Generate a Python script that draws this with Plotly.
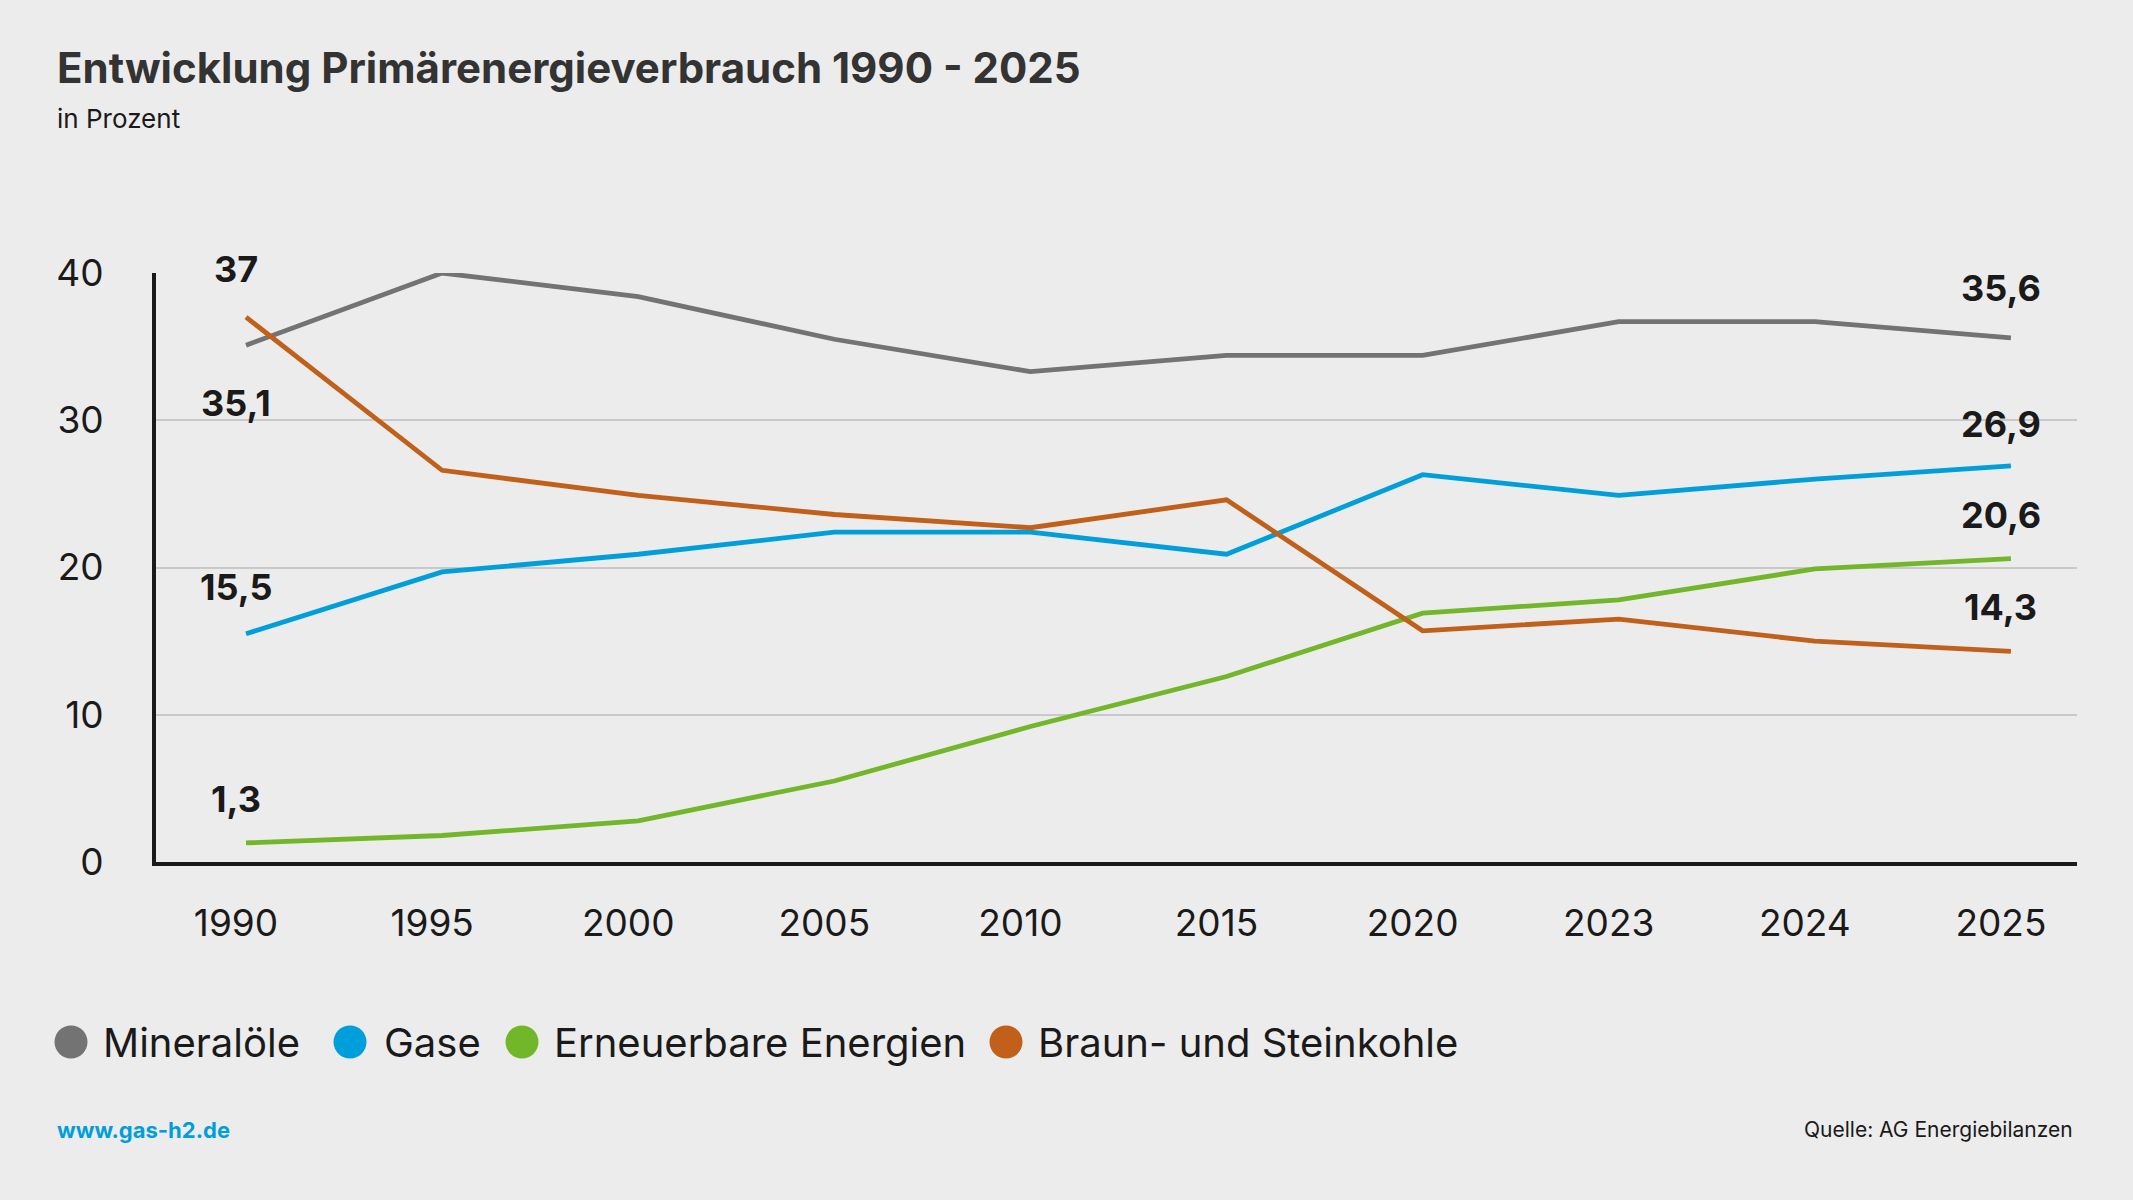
import plotly.graph_objects as go

years = ["1990", "1995", "2000", "2005", "2010", "2015", "2020", "2023", "2024", "2025"]
mineraloele = [35.1, 40.0, 38.4, 35.5, 33.3, 34.4, 34.4, 36.7, 36.7, 35.6]
gase = [15.5, 19.7, 20.9, 22.4, 22.4, 20.9, 26.3, 24.9, 26.0, 26.9]
erneuerbare = [1.3, 1.8, 2.8, 5.5, 9.2, 12.6, 16.9, 17.8, 19.9, 20.6]
kohle = [37.0, 26.6, 24.9, 23.6, 22.7, 24.6, 15.7, 16.5, 15.0, 14.3]

series_names = ["Mineralöle", "Gase", "Erneuerbare Energien", "Braun- und Steinkohle"]
series_values = [mineraloele, gase, erneuerbare, kohle]
colors = ["#737373", "#009fdb", "#72b62a", "#c0601a"]

y_ticks = [0, 10, 20, 30, 40]

# labels: (series index, point index, text, pixel offset)
value_labels = [
    (3, 0, "37", 48),
    (0, 0, "35,1", -58),
    (1, 0, "15,5", 47),
    (2, 0, "1,3", 44),
    (0, 9, "35,6", 50),
    (1, 9, "26,9", 42),
    (2, 9, "20,6", 44),
    (3, 9, "14,3", 44),
]

idx = list(range(len(years)))
fig = go.Figure()
for name, vals, col in zip(series_names, series_values, colors):
    fig.add_trace(go.Scatter(
        x=idx, y=vals, mode="lines", name=name,
        line=dict(color=col, width=4.8),
        showlegend=False, hoverinfo="skip",
    ))

annotations = []
for si, pi, txt, off in value_labels:
    annotations.append(dict(
        x=idx[pi], y=series_values[si][pi], xref="x", yref="y",
        text=txt, showarrow=False, xshift=-10, yshift=off,
        font=dict(family="Inter", size=36, color="#1a1a1a", weight="bold"),
        xanchor="center", yanchor="middle",
    ))

# title / subtitle / footer
annotations += [
    dict(x=-0.0526, y=1.349, xref="paper", yref="paper", xanchor="left", yanchor="middle",
         text="<b>Entwicklung Primärenergieverbrauch 1990 - 2025</b>", showarrow=False,
         font=dict(family="Inter", size=42, color="#333333")),
    dict(x=-0.0526, y=1.262, xref="paper", yref="paper", xanchor="left", yanchor="middle",
         text="in Prozent", showarrow=False,
         font=dict(family="Inter", size=26, color="#1a1a1a")),
    dict(x=-0.0526, y=-0.455, xref="paper", yref="paper", xanchor="left", yanchor="middle",
         text="<b>www.gas-h2.de</b>", showarrow=False,
         font=dict(family="Inter", size=22, color="#009fdb")),
    dict(x=0.999, y=-0.455, xref="paper", yref="paper", xanchor="right", yanchor="middle",
         text="Quelle: AG Energiebilanzen", showarrow=False,
         font=dict(family="Inter", size=21, color="#1a1a1a")),
]

# custom legend
plot_left, plot_w = 156, 1921
plot_bottom, plot_h = 862, 589
legend_circle_px = [71, 350, 522, 1006]
legend_text_px = [101, 382, 552, 1036]
legend_y_px = 1042
ly = (plot_bottom - legend_y_px) / plot_h
shapes = []
for name, col, cx, tx in zip(series_names, colors, legend_circle_px, legend_text_px):
    px = (cx - plot_left) / plot_w
    shapes.append(dict(
        type="circle", xref="paper", yref="paper",
        xsizemode="pixel", ysizemode="pixel",
        xanchor=px, yanchor=ly, x0=-16.5, x1=16.5, y0=-16.5, y1=16.5,
        fillcolor=col, line=dict(width=0),
    ))
    annotations.append(dict(
        x=(tx - plot_left) / plot_w, y=ly, xref="paper", yref="paper",
        xanchor="left", yanchor="middle", text=name, showarrow=False,
        font=dict(family="Inter", size=40, color="#1a1a1a"),
    ))

fig.update_layout(
    width=2133, height=1200,
    margin=dict(l=156, r=56, t=273, b=338),
    paper_bgcolor="#ececec", plot_bgcolor="#ececec",
    annotations=annotations, shapes=shapes,
    showlegend=False,
)
fig.update_xaxes(
    range=[-0.459, 9.337], tickvals=idx, ticktext=years,
    showgrid=False, zeroline=False, showline=True, linecolor="#1a1a1a", linewidth=4,
    ticks="", ticklabelstandoff=26, ticklabelshift=-10,
    tickfont=dict(family="Inter", size=37, color="#1a1a1a"),
)
fig.update_yaxes(
    range=[0, 40], tickvals=y_ticks,
    showgrid=True, gridcolor="#c9c9c9", gridwidth=2, zeroline=False,
    showline=True, linecolor="#1a1a1a", linewidth=4,
    ticks="", ticklabelstandoff=41,
    tickfont=dict(family="Inter", size=37, color="#1a1a1a"),
)
fig.write_html(
    "out.html",
    config={"displayModeBar": False},
    post_script="document.body.style.margin='0';document.body.style.background='#ececec';",
)
